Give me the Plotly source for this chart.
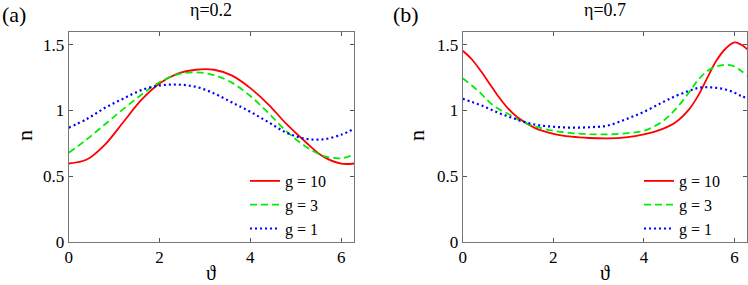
import plotly.graph_objects as go

W, H = 748, 285

# ---------------- data ----------------
theta_a = [0, 0.4, 0.8, 1.2, 1.6, 2.0, 2.4, 2.8, 3.2, 3.6, 4.0, 4.4, 4.8, 5.2, 5.6, 6.0, 6.283]
n_a_g10 = [0.596, 0.626, 0.74, 0.91, 1.08, 1.205, 1.28, 1.31, 1.31, 1.265, 1.17, 1.045, 0.895, 0.765, 0.65, 0.595, 0.596]
n_a_g3 = [0.677, 0.78, 0.895, 1.01, 1.12, 1.215, 1.275, 1.29, 1.27, 1.21, 1.11, 0.98, 0.84, 0.73, 0.655, 0.636, 0.664]
n_a_g1 = [0.869, 0.935, 1.02, 1.09, 1.155, 1.19, 1.197, 1.18, 1.13, 1.06, 0.99, 0.91, 0.83, 0.785, 0.78, 0.815, 0.861]

theta_b = [0, 0.2, 0.4, 0.6, 0.8, 1.0, 1.2, 1.6, 2.0, 2.4, 2.8, 3.2, 3.6, 4.0, 4.4, 4.7, 5.0, 5.2, 5.4, 5.6, 5.8, 6.0, 6.15, 6.283]
n_b_g10 = [1.455, 1.39, 1.30, 1.20, 1.10, 1.015, 0.95, 0.865, 0.822, 0.80, 0.79, 0.787, 0.795, 0.818, 0.858, 0.91, 1.01, 1.115, 1.25, 1.38, 1.47, 1.518, 1.50, 1.465]
n_b_g3 = [1.245, 1.19, 1.13, 1.06, 1.01, 0.975, 0.935, 0.878, 0.845, 0.828, 0.82, 0.818, 0.826, 0.845, 0.915, 1.01, 1.14, 1.235, 1.30, 1.335, 1.348, 1.335, 1.30, 1.265]
n_b_g1 = [1.088, 1.065, 1.04, 1.01, 0.98, 0.955, 0.93, 0.892, 0.876, 0.869, 0.872, 0.885, 0.933, 0.99, 1.06, 1.11, 1.15, 1.172, 1.177, 1.172, 1.16, 1.135, 1.11, 1.093]

series_names = ["g = 10", "g = 3", "g = 1"]
panel_titles = ["η=0.2", "η=0.7"]
panel_labels = ["(a)", "(b)"]
x_ticks = [0, 2, 4, 6]
y_ticks = [0, 0.5, 1, 1.5]
y_ticklabels = ["0", "0.5", "1", "1.5"]

# ---------------- styling ----------------
SERIF = "Liberation Serif"
colors = ["#FF0000", "#00EE00", "#0000FF"]
dashes = ["solid", "7px,4px", "2px,3px"]
widths = [1.8, 1.8, 2.2]

def px(x):
    return x / W

def py(y):
    return 1 - y / H

dom_x = [[px(68.7), px(354)], [px(462.7), px(747.4)]]
dom_y = [py(241.7), py(31.7)]

fig = go.Figure()

panels = [(theta_a, [n_a_g10, n_a_g3, n_a_g1]), (theta_b, [n_b_g10, n_b_g3, n_b_g1])]
for p, (th, ys) in enumerate(panels):
    xa = "x" if p == 0 else "x2"
    ya = "y" if p == 0 else "y2"
    lg = "legend" if p == 0 else "legend2"
    for i, yv in enumerate(ys):
        fig.add_trace(go.Scatter(
            x=th, y=yv, mode="lines", name=series_names[i],
            line=dict(color=colors[i], dash=dashes[i], width=widths[i], shape="spline", smoothing=1.0),
            xaxis=xa, yaxis=ya, legend=lg,
        ))

axis_common = dict(
    showgrid=False, zeroline=False, showline=True, mirror="ticks",
    linecolor="#777777", linewidth=1, ticks="inside", ticklen=4,
    tickcolor="#555555", tickwidth=1, automargin=False,
    tickfont=dict(family=SERIF, size=17, color="black"),
)

for p in range(2):
    sfx = "" if p == 0 else "2"
    fig.update_layout(**{
        "xaxis" + sfx: dict(axis_common, domain=dom_x[p], range=[0, 6.283], tickvals=x_ticks,
                            anchor="y" + sfx),
        "yaxis" + sfx: dict(axis_common, domain=dom_y, range=[0, 1.6], tickvals=y_ticks,
                            ticktext=y_ticklabels, anchor="x" + sfx),
    })

leg_common = dict(
    font=dict(family=SERIF, size=16, color="black"),
    bgcolor="rgba(0,0,0,0)", borderwidth=0, xanchor="left", yanchor="top",
    tracegroupgap=0, itemwidth=30,
)
fig.update_layout(
    legend=dict(leg_common, x=px(245), y=py(164)),
    legend2=dict(leg_common, x=px(639), y=py(164)),
)

ann = []
centers = [(68.7 + 354) / 2, (462.7 + 747.4) / 2]
ylab_x = [25, 417]
plab_x = [0, 391]
for p in range(2):
    ann.append(dict(text=panel_titles[p], x=px(centers[p]), y=py(10), xref="paper", yref="paper",
                    showarrow=False, xanchor="center", yanchor="middle",
                    font=dict(family=SERIF, size=18, color="black")))
    ann.append(dict(text=panel_labels[p], x=px(plab_x[p]), y=py(15), xref="paper", yref="paper",
                    showarrow=False, xanchor="left", yanchor="middle",
                    font=dict(family=SERIF, size=22, color="black")))
    ann.append(dict(text="n", x=px(ylab_x[p]), y=py(136), xref="paper", yref="paper",
                    showarrow=False, xanchor="center", yanchor="middle", textangle=-90,
                    font=dict(family=SERIF, size=22, color="black")))
    ann.append(dict(text="ϑ", x=px(centers[p]), y=py(273), xref="paper", yref="paper",
                    showarrow=False, xanchor="center", yanchor="middle",
                    font=dict(family=SERIF, size=20, color="black")))

fig.update_layout(
    width=W, height=H, margin=dict(l=0, r=0, t=0, b=0, autoexpand=False),
    paper_bgcolor="white", plot_bgcolor="white",
    font=dict(family=SERIF, color="black"),
    annotations=ann, showlegend=True,
)

fig.write_html("out.html", config={"displayModeBar": False},
               post_script="document.body.style.margin='0px';")
